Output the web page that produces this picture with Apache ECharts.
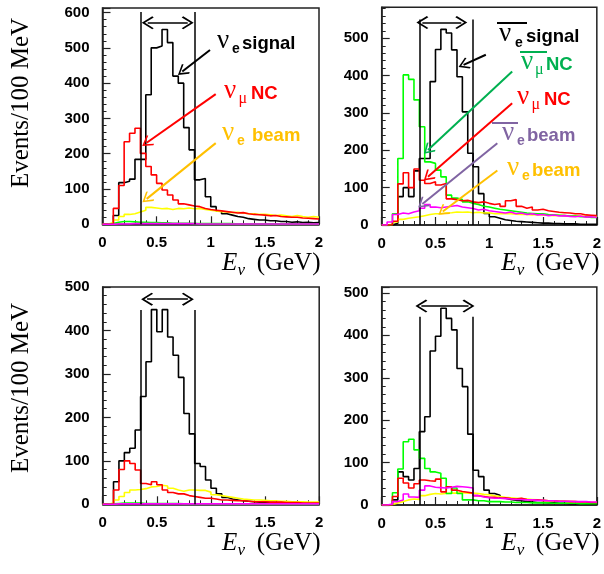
<!DOCTYPE html>
<html><head><meta charset="utf-8">
<script src="https://cdn.jsdelivr.net/npm/echarts@6/dist/echarts.min.js"></script>
<style>html,body{margin:0;padding:0;background:#fff}#c{width:604px;height:574px}</style>
</head><body><div id="c"></div>
<script>
// ---------- data ----------
const binWidth = 0.05;               // GeV
const xTickLabels = ['0', '0.5', '1', '1.5', '2'];
const cutLow = 0.35, cutHigh = 0.85; // GeV window

// top-left panel (neutrino)
const p1Signal  = [0,0,25,118,122,128,184,184,367,500,505,552,515,420,400,274,211,126,130,78,50,38,30,26,22,20,16,14,12,12,10,10,8,8,6,7,5,6,4,5];
const p1NumuNC  = [0,0,45,110,234,258,272,201,164,140,116,97,83,69,58,55,52,50,45,42,40,38,36,34,32,33,30,28,27,26,24,25,22,21,20,20,18,17,16,15];
const p1NueBeam = [0,5,12,22,28,30,35,40,48,46,44,45,42,45,44,46,44,45,42,40,38,36,35,33,34,32,30,30,28,28,27,25,26,24,22,25,22,20,22,20];
const p1NumubarNC  = [0,2,6,8,8,7,6,6,5,5,4,4,3,3,3,3,2,2,2,2,2,2,2,2,1,1,1,1,1,1,1,1,1,1,1,1,1,1,1,1];
const p1NuebarBeam = [0,0,1,1,1,2,2,2,2,2,2,2,2,2,2,2,2,1,1,1,1,1,1,1,1,1,1,1,1,1,1,1,1,1,1,1,1,1,1,1];

// top-right panel (anti-neutrino)
const p2Signal  = [0,0,5,76,100,76,145,178,178,384,470,524,514,469,397,303,192,156,84,31,22,18,14,12,10,9,8,7,6,5,5,4,4,3,3,3,2,2,2,2];
const p2NumubarNC = [0,0,30,178,402,390,335,263,169,165,147,129,80,72,68,62,58,55,50,48,45,42,40,38,36,34,32,31,30,30,28,27,26,25,24,24,22,22,20,20];
const p2NumuNC  = [0,0,10,110,140,100,150,120,111,116,107,111,70,68,65,66,62,60,62,58,55,57,50,65,68,50,45,48,40,42,38,36,34,33,32,30,30,27,26,25];
const p2NuebarBeam = [0,8,28,32,30,35,38,45,55,48,46,48,50,52,48,46,44,40,42,38,36,34,32,35,30,32,28,30,27,28,25,27,24,25,23,22,24,21,22,20];
const p2NueBeam = [0,2,8,15,18,20,22,25,28,30,30,32,33,35,34,35,33,34,32,33,30,31,30,30,29,28,28,27,28,26,26,25,26,25,24,25,24,23,24,22];

// bottom-left panel
const p3Signal  = [0,0,52,100,119,129,171,248,328,448,397,448,385,343,292,209,162,94,87,56,37,24,16,12,10,8,7,6,5,5,4,4,3,3,3,2,2,2,2,2];
const p3NumuNC  = [0,0,33,80,100,94,79,48,45,52,45,33,27,24,24,20,18,16,14,14,12,10,10,9,8,8,7,6,6,6,5,5,5,4,4,4,3,3,3,3];
const p3NueBeam = [0,3,10,18,27,33,34,36,40,41,44,42,37,33,30,33,33,32,32,28,22,20,18,16,14,12,11,10,10,9,8,8,7,7,6,6,6,5,5,5];
const p3NumubarNC  = [0,1,2,3,3,3,3,2,2,2,2,2,2,2,1,1,1,1,1,1,1,1,1,1,0,0,0,0,0,0,0,0,0,0,0,0,0,0,0,0];
const p3NuebarBeam = [0,0,1,1,1,1,1,1,1,1,1,1,1,1,1,1,1,1,1,1,1,1,1,1,1,1,1,1,1,1,1,1,1,1,1,1,1,1,1,1];

// bottom-right panel
const p4Signal  = [0,0,12,78,67,59,86,173,208,363,398,464,440,413,322,279,167,82,67,35,27,23,16,13,11,10,8,7,6,6,5,5,4,4,3,3,3,2,2,2];
const p4NumubarNC = [0,0,29,85,149,155,130,110,86,78,75,63,27,40,27,12,12,10,10,8,8,8,7,7,6,6,6,5,5,5,5,4,4,4,4,4,3,3,3,3];
const p4NumuNC  = [0,0,20,63,52,40,50,59,57,56,61,31,43,35,32,30,28,22,20,18,18,16,17,15,14,16,13,12,12,11,10,10,9,9,8,8,7,7,6,6];
const p4NuebarBeam = [0,2,8,12,26,19,18,35,45,42,41,40,42,44,43,42,40,22,19,17,16,16,15,14,13,13,12,12,11,11,10,10,9,9,9,8,8,8,7,7];
const p4NueBeam = [0,1,5,8,12,14,13,22,25,27,26,27,28,28,29,28,28,27,25,24,22,20,18,17,16,15,14,13,12,11,10,10,9,9,8,8,7,7,6,6];

// y-axis maxima and cut-line heights (events)
const yMax = [613, 583, 500, 514];
const cutTop = [602, 550, 447, 444];
// double arrow [xFrom, xTo, y]
const windowArrow = [[0.418,0.787,571],[0.378,0.74,542],[0.41,0.787,472],[0.369,0.807,469]];
// annotation arrows: [x0,y0,x1,y1,colorKey]
const p1Arrows = [[0.993,494,0.737,433,'k'],[1.046,369,0.408,231,'r'],[1.046,230,0.408,72,'o']];
const p2Arrows = [[0.968,456,0.761,429,'k'],[1.213,411,0.43,201,'g'],[1.213,326,0.43,129,'r'],[1.075,219,0.378,56,'p'],[1.075,146,0.568,36,'o']];

// ---------- styling ----------
const HC = {signal:'#000000', numu:'#FF0000', nue:'#FFFF00', numubar:'#00FF00', nuebar:'#FF00FF'};
const AC = {k:'#000000', r:'#FF0000', o:'#FFC000', g:'#00B050', p:'#8064A2'};
const grids = [
  {left:102.5, top:8,   width:216.5, height:216.3},
  {left:381.7, top:7.3, width:217,   height:217.7},
  {left:102.7, top:287, width:216.5, height:217.3},
  {left:381.7, top:287, width:217,   height:218}
];
const chev = 'path://M0,0L10,11L8.3,12.6L0,3.4L-8.3,12.6L-10,11Z';

function hist(vals){
  const pts = vals.map((v,i)=>[Math.round(i*binWidth*1000)/1000, v]);
  pts.push([Math.round(vals.length*binWidth*1000)/1000, vals[vals.length-1]]);
  return pts;
}
const AX = '#222';
const xAxes = [], yAxes = [], series = [];
grids.forEach((g,i)=>{
  Object.assign(g,{show:true, borderColor:AX, borderWidth:1.5, backgroundColor:'transparent'});
  xAxes.push({type:'value', gridIndex:i, min:0, max:2, interval:0.5,
    axisLine:{show:true, onZero:false, lineStyle:{color:AX,width:1.5}},
    axisTick:{show:true, inside:true, length:8, lineStyle:{color:AX,width:1.2}},
    minorTick:{show:true, splitNumber:5, length:4, lineStyle:{color:AX,width:1}},
    splitLine:{show:false}, minorSplitLine:{show:false},
    axisLabel:{margin:11, color:'#000', fontFamily:'Liberation Sans', fontWeight:'bold', fontSize:15,
      formatter:v=>{const k=Math.round(v/0.5); return Math.abs(v-k*0.5)<1e-6 ? xTickLabels[k] : '';}}});
  // major axis (labels, 100)
  yAxes.push({type:'value', gridIndex:i, min:0, max:yMax[i], interval:100, position:'left',
    axisLine:{show:true, onZero:false, lineStyle:{color:AX,width:1.5}},
    axisTick:{show:true, inside:true, length:8, lineStyle:{color:AX,width:1.2}},
    splitLine:{show:false},
    axisLabel:{margin:13, color:'#000', fontFamily:'Liberation Sans', fontWeight:'bold', fontSize:15,
      formatter:v=>(v%100===0 ? String(v) : '')}});
  // minor axis (ticks every 20)
  yAxes.push({type:'value', gridIndex:i, min:0, max:yMax[i], interval:20, position:'left', offset:0,
    axisLine:{show:false}, axisLabel:{show:false}, splitLine:{show:false},
    axisTick:{show:true, inside:true, length:4, lineStyle:{color:AX,width:1}}});
});

function hs(i, vals, color, extra){
  return Object.assign({type:'line', xAxisIndex:i, yAxisIndex:2*i, data:hist(vals), step:'end',
    symbol:'none', showSymbol:false, silent:true, animation:false,
    lineStyle:{color:color, width:1.6}}, extra||{});
}
function marks(i, arrows){
  const d = [];
  d.push([{coord:[cutLow,0],symbol:'none'},{coord:[cutLow,cutTop[i]],symbol:'none'}]);
  d.push([{coord:[cutHigh,0],symbol:'none'},{coord:[cutHigh,cutTop[i]],symbol:'none'}]);
  const w = windowArrow[i];
  d.push([{coord:[w[0],w[2]],symbol:chev,symbolSize:[13,12]},{coord:[w[1],w[2]],symbol:chev,symbolSize:[13,12]}]);
  (arrows||[]).forEach(a=>{
    d.push([{coord:[a[0],a[1]],symbol:'none',lineStyle:{color:AC[a[4]],width:2}},
            {coord:[a[2],a[3]],symbol:chev,symbolSize:[12,11],lineStyle:{color:AC[a[4]],width:2}}]);
  });
  return {silent:true, animation:false, label:{show:false}, emphasis:{disabled:true},
    lineStyle:{color:'#000', width:1.5, type:'solid'}, itemStyle:{color:'#000'}, data:d};
}
function sig(i, vals, arrows){ return hs(i, vals, HC.signal, {markLine:marks(i, arrows), z:3}); }

series.push(sig(0,p1Signal,p1Arrows), hs(0,p1NueBeam,HC.nue), hs(0,p1NumubarNC,HC.numubar), hs(0,p1NumuNC,HC.numu), hs(0,p1NuebarBeam,HC.nuebar));
series.push(sig(1,p2Signal,p2Arrows), hs(1,p2NueBeam,HC.nue), hs(1,p2NumubarNC,HC.numubar), hs(1,p2NumuNC,HC.numu), hs(1,p2NuebarBeam,HC.nuebar));
series.push(sig(2,p3Signal,[]), hs(2,p3NueBeam,HC.nue), hs(2,p3NumubarNC,HC.numubar), hs(2,p3NumuNC,HC.numu), hs(2,p3NuebarBeam,HC.nuebar));
series.push(sig(3,p4Signal,[]), hs(3,p4NueBeam,HC.nue), hs(3,p4NumubarNC,HC.numubar), hs(3,p4NumuNC,HC.numu), hs(3,p4NuebarBeam,HC.nuebar));

// ---------- text ----------
const SANS = '"Liberation Sans"', SERIF = '"Liberation Serif"';
function T(x, base, text, font, fs, color, align){
  return {type:'text', x:x, y:base - 0.34*fs, silent:true, z:10,
    style:{text:text, font:font, fill:color, align:align||'left', verticalAlign:'middle',
      textAlign:align||'left', textVerticalAlign:'middle'}};
}
function label(xNu, xSub, xWord, base, sub, word, color){
  const subGreek = (sub==='μ');
  return [
    T(xNu-1, base, 'ν', '27px '+SERIF, 27, color),
    subGreek ? T(xSub, base+4, sub, '16px '+SERIF, 16, color) : T(xSub, base+4, sub, 'bold 14px '+SANS, 14, color),
    T(xWord, base, word, 'bold 18.5px '+SANS, 18.5, color)
  ];
}
function bar(x1, x2, y, color){
  return {type:'line', silent:true, z:10, shape:{x1:x1,y1:y,x2:x2,y2:y}, style:{stroke:color, lineWidth:2}};
}
const graphics = [];
// panel 1
graphics.push(...label(218, 232, 242, 50, 'e', 'signal', AC.k));
graphics.push(...label(225, 238.5, 251, 100, 'μ', 'NC', AC.r));
graphics.push(...label(223, 237, 252, 141.7, 'e', 'beam', AC.o));
// panel 2
graphics.push(...label(500, 515, 526, 43.5, 'e', 'signal', AC.k), bar(497, 527, 23, AC.k));
graphics.push(...label(522, 535, 546, 71, 'μ', 'NC', AC.g), bar(520, 547, 52, AC.g));
graphics.push(...label(518, 531.5, 544, 106, 'μ', 'NC', AC.r));
graphics.push(...label(503, 517, 527, 142, 'e', 'beam', AC.p), bar(492, 518, 123, AC.p));
graphics.push(...label(508, 522, 532, 177, 'e', 'beam', AC.o));
// axis titles
[[0,0],[279.2,0],[0,280.3],[279.2,280.3]].forEach(([dx,dy])=>{
  graphics.push(T(222+dx, 272+dy, 'E', 'italic 25px '+SERIF, 25, '#000'));
  graphics.push(T(237.5+dx, 276+dy, 'ν', 'italic 17px '+SERIF, 17, '#000'));
  graphics.push(T(320.5+dx, 272+dy, '(GeV)', '25px '+SERIF, 25, '#000', 'right'));
});
[103, 388].forEach(cy=>{
  graphics.push({type:'text', x:21, y:cy, rotation:Math.PI/2, silent:true,
    style:{text:'Events/100 MeV', font:'25px '+SERIF, fill:'#000', align:'center', verticalAlign:'middle',
      textAlign:'center', textVerticalAlign:'middle'}});
});

const chart = echarts.init(document.getElementById('c'), null, {renderer:'canvas', width:604, height:574});
chart.setOption({animation:false, backgroundColor:'#fff', grid:grids, xAxis:xAxes, yAxis:yAxes, series:series, graphic:graphics});
</script></body></html>
